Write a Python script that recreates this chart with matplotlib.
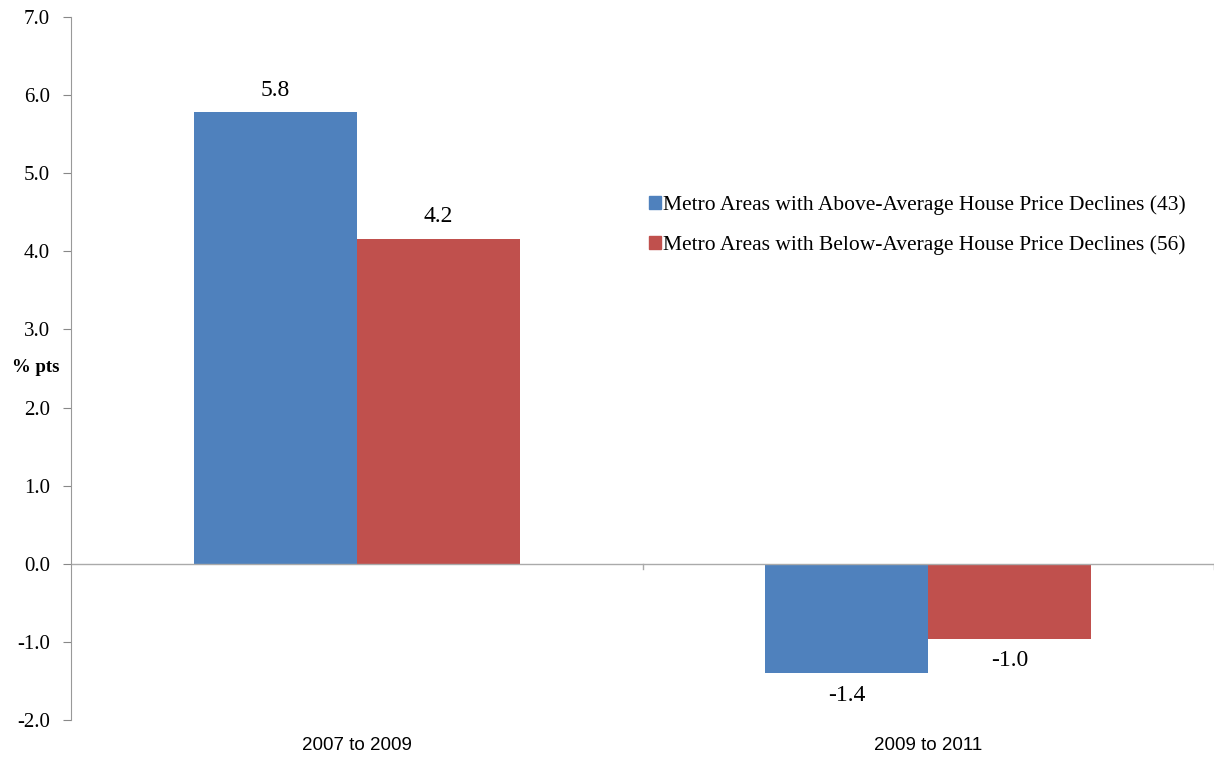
import matplotlib
matplotlib.use("Agg")
import matplotlib.pyplot as plt
import numpy as np
from matplotlib.patches import Patch

categories = ["2007 to 2009", "2009 to 2011"]
series_names = ["Metro Areas with Above-Average House Price Declines (43)",
                "Metro Areas with Below-Average House Price Declines (56)"]
above_vals = [5.78, -1.40]
below_vals = [4.16, -0.96]
yticks = [7.0, 6.0, 5.0, 4.0, 3.0, 2.0, 1.0, 0.0, -1.0, -2.0]
colors = ["#4F81BD", "#C0504D"]

serif = ["Liberation Serif", "DejaVu Serif"]
fig = plt.figure(figsize=(12.14, 7.59), dpi=100)
ax = fig.add_axes([71/1214, 1 - 720/759, 1 - 71/1214, (720 - 17)/759])

x = np.arange(len(categories))
w = 0.285
b1 = ax.bar(x - w/2, above_vals, w, color=colors[0])
b2 = ax.bar(x + w/2, below_vals, w, color=colors[1])

off = 16.0  # points
for bars, vals in ((b1, above_vals), (b2, below_vals)):
    for r, v in zip(bars, vals):
        cx = r.get_x() + r.get_width()/2
        dy = off if v >= 0 else -off
        ax.annotate(f"{v:.1f}", (cx, v), xytext=(0, dy), textcoords="offset points",
                    ha="center", va="center", fontsize=17, family=serif)

ax.set_xlim(-0.5, 1.5)
ax.set_ylim(-2.0, 7.0)
ax.set_yticks(yticks)
ax.set_yticklabels([f"{t:.1f}" for t in yticks], family=serif, fontsize=15)
ax.tick_params(axis="y", length=6, color="#888888", pad=9, direction="out")
ax.set_xticks([])
for s in ["top", "right", "bottom"]:
    ax.spines[s].set_visible(False)
ax.spines["left"].set_color("#999999")
ax.axhline(0, color="#aaaaaa", lw=1)
# category boundary tick marks on the zero line
for xb in [0.5, 1.5]:
    ax.plot([xb, xb], [0, -0.07], color="#aaaaaa", lw=1, clip_on=False)
for i, c in enumerate(categories):
    ax.annotate(c, (x[i], -2.0), xytext=(0, -18.5), textcoords="offset points",
                ha="center", va="center", annotation_clip=False,
                fontsize=13.5, family=["Liberation Sans Narrow", "Liberation Sans", "DejaVu Sans"])
ax.text(12/1214, 1 - 368/759, "% pts", transform=fig.transFigure, ha="left", va="center",
        fontsize=13.5, fontweight="bold", family=serif)

handles = [Patch(color=colors[0]), Patch(color=colors[1])]
leg = ax.legend(handles, series_names, loc="upper left", bbox_to_anchor=(649/1214, 1 - 195/759),
                bbox_transform=fig.transFigure, frameon=False, handlelength=0.55, handleheight=0.55,
                handletextpad=0.1, labelspacing=0.95, borderpad=0, borderaxespad=0,
                prop={"family": serif, "size": 15.5})

fig.savefig("out.png", dpi=100)
